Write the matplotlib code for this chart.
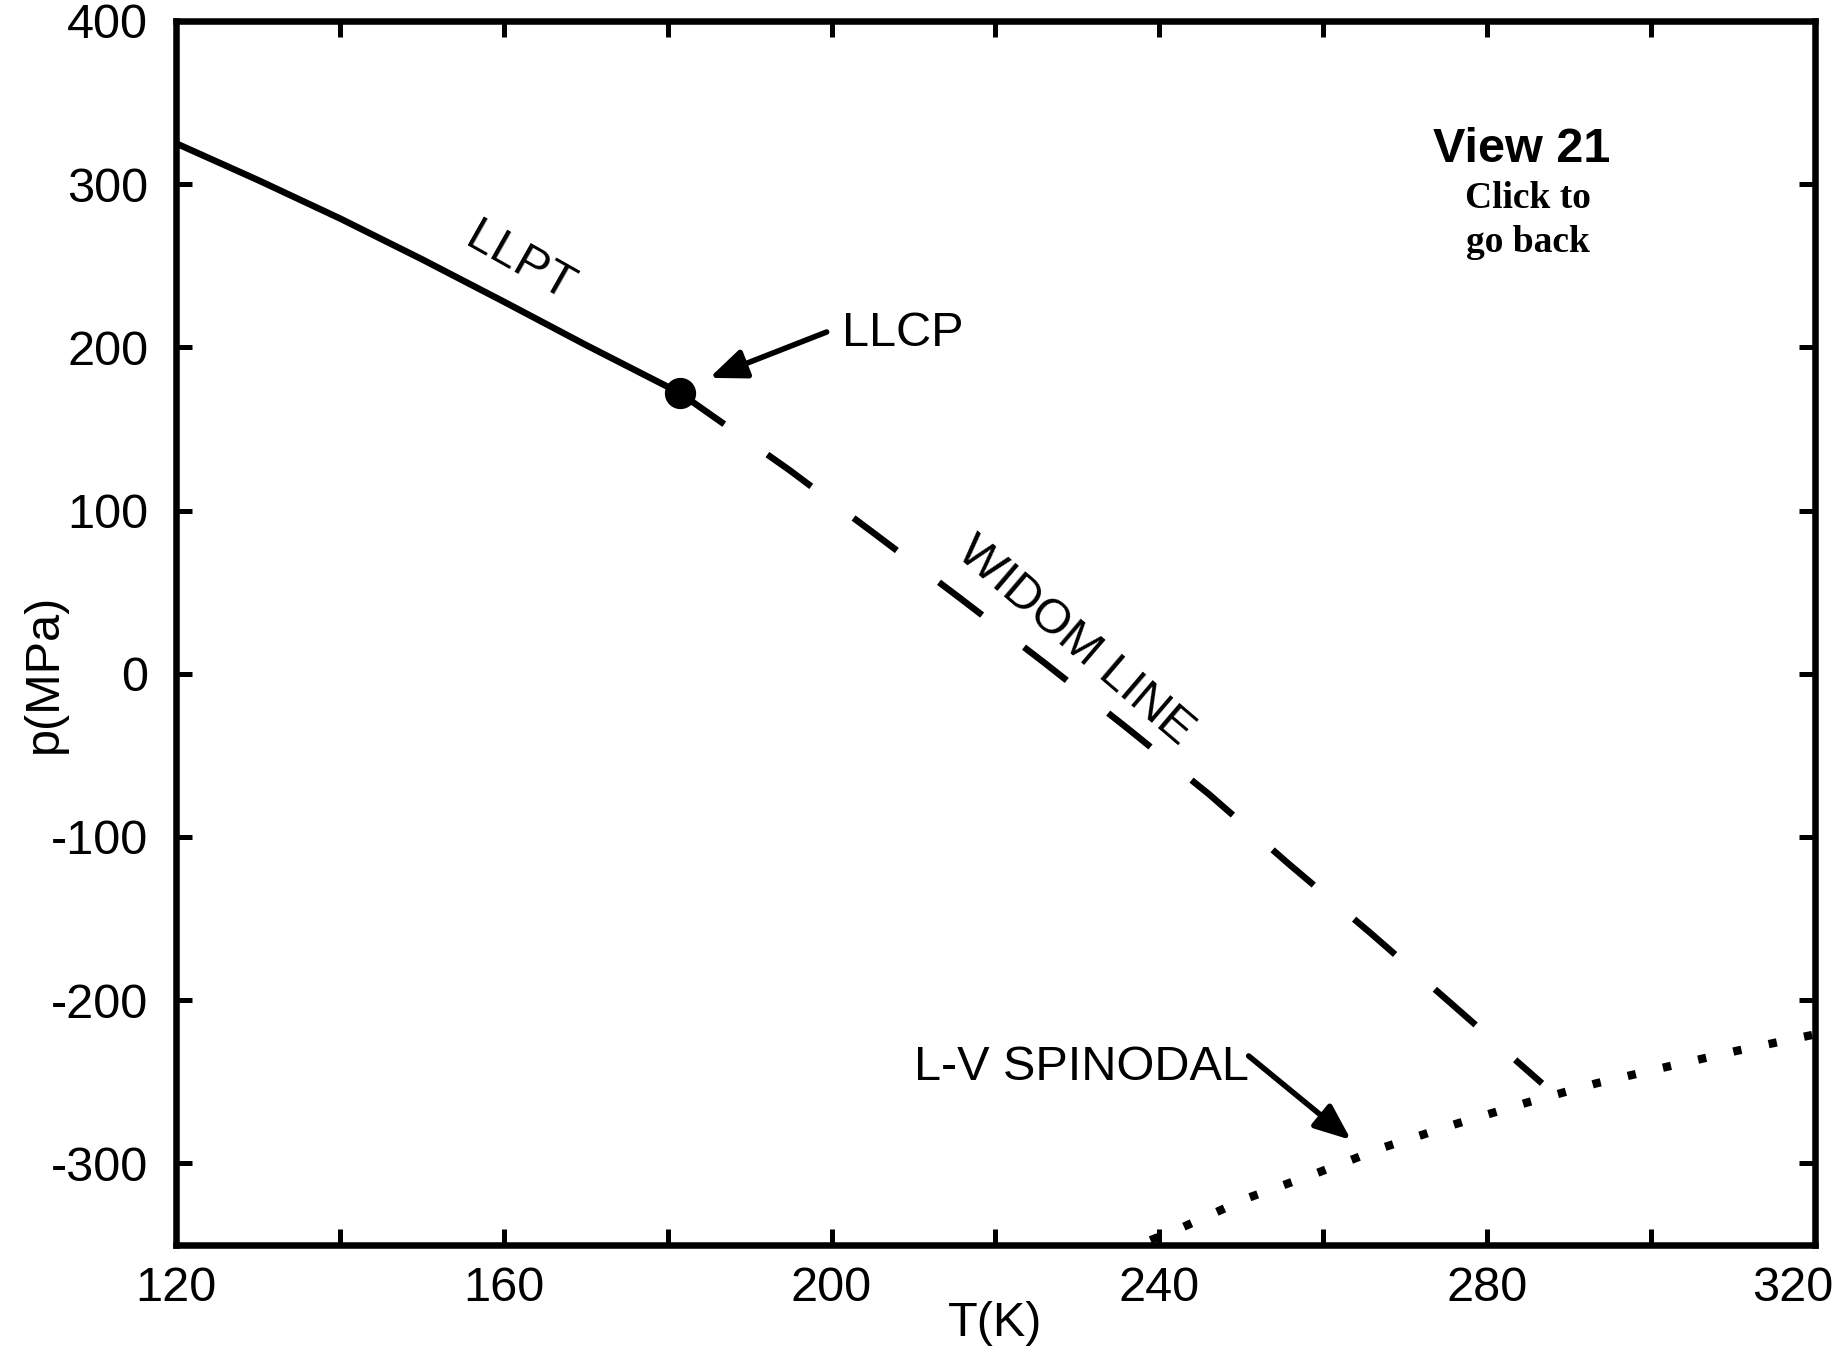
import matplotlib
matplotlib.use("Agg")
import matplotlib.pyplot as plt
from matplotlib.transforms import ScaledTranslation

plt.rcParams['font.family'] = ['Liberation Sans', 'DejaVu Sans']
plt.rcParams['lines.scale_dashes'] = False

# ---- data ----
llpt_T = [120, 130, 140, 150, 160, 170, 181.5]
llpt_p = [325, 302.5, 279, 254, 228, 201.5, 172]
llcp_T = [181.5]
llcp_p = [172]
widom_T = [181.5, 194.8, 205.2, 215.5, 225.9, 236.0, 246.1, 255.9, 265.8, 275.6, 286.7]
widom_p = [172, 125, 86, 47, 7, -33, -74, -117, -159, -202, -251]
spin_T = [237.5, 242.9, 250.9, 259.2, 267.5, 276.1, 284.7, 293.3, 301.8, 310.5, 320]
spin_p = [-350, -339, -321, -306, -290, -276, -263, -251, -241, -231, -221]

x_ticks = [120, 140, 160, 180, 200, 220, 240, 260, 280, 300, 320]
x_tick_labels = ['120', '', '160', '', '200', '', '240', '', '280', '', '320']
y_ticks = [-300, -200, -100, 0, 100, 200, 300, 400]
y_tick_labels = ['-300', '-200', '-100', '0', '100', '200', '300', '400']

fig = plt.figure(figsize=(18.39, 13.51), dpi=100)
ax = fig.add_axes([0.0957, 0.0785, 0.8912, 0.906])

LW = 4.7
ax.plot(llpt_T, llpt_p, color='black', lw=LW, solid_capstyle='butt')
ax.plot(widom_T, widom_p, color='black', lw=LW,
        linestyle=(0, (39, 38)), dash_capstyle='butt')
ax.plot(spin_T, spin_p, color='black', lw=6.0,
        linestyle=(17, (6, 20)), dash_capstyle='butt')
ax.plot(llcp_T, llcp_p, 'o', color='black', markersize=21.5, zorder=5)

ax.set_xlim(120, 320)
ax.set_ylim(-350, 400)
ax.set_xticks(x_ticks)
ax.set_xticklabels(x_tick_labels)
ax.set_yticks(y_ticks)
ax.set_yticklabels(y_tick_labels)

ax.tick_params(axis='both', which='major', direction='in', length=11.5, width=3.6,
               top=True, right=True, labelsize=35, color='black')
ax.tick_params(axis='x', pad=15)
ax.tick_params(axis='y', pad=20)
for s in ax.spines.values():
    s.set_linewidth(LW)

# last x tick label is nudged left so it stays inside the figure
last_lbl = ax.xaxis.get_major_ticks()[-1].label1
last_lbl.set_transform(last_lbl.get_transform()
                       + ScaledTranslation(-0.22, 0, fig.dpi_scale_trans))

ax.set_xlabel('T(K)', fontsize=35)
ax.xaxis.set_label_coords(0.5, -0.046)
ax.set_ylabel('p(MPa)', fontsize=35)
ax.yaxis.label.set_va('center')
ax.yaxis.set_label_coords(-0.080, 0.467)

# labels on curves
ax.text(162.0, 252.0, 'LLPT', fontsize=35, rotation=-29.5,
        ha='center', va='center', rotation_mode='anchor')
ax.text(229.7, 20, 'WIDOM LINE', fontsize=35, rotation=-40.5,
        ha='center', va='center', rotation_mode='anchor')
ax.text(201.3, 208.5, 'LLCP', fontsize=35, ha='left', va='center')
ax.text(210.0, -241.5, 'L-V SPINODAL', fontsize=35, ha='left', va='center')

arrow_style = '-|>,head_length=22,head_width=9'
ax.annotate('', xy=(185.1, 181.3), xytext=(199.4, 209.4),
            arrowprops=dict(arrowstyle=arrow_style, color='black', lw=4,
                            mutation_scale=1, shrinkA=0, shrinkB=0))
ax.annotate('', xy=(263.4, -285.7), xytext=(250.9, -234.2),
            arrowprops=dict(arrowstyle=arrow_style, color='black', lw=4,
                            mutation_scale=1, shrinkA=0, shrinkB=0))

# "View 21" note
ax.text(284.2, 321.5, 'View 21', fontsize=35, fontweight='bold',
        ha='center', va='center')
ax.text(285, 291.0, 'Click to', fontsize=27, fontweight='bold',
        family=['Liberation Serif', 'DejaVu Serif'], ha='center', va='center')
ax.text(285, 264.5, 'go back', fontsize=27, fontweight='bold',
        family=['Liberation Serif', 'DejaVu Serif'], ha='center', va='center')

fig.savefig('out.png', dpi=100)
